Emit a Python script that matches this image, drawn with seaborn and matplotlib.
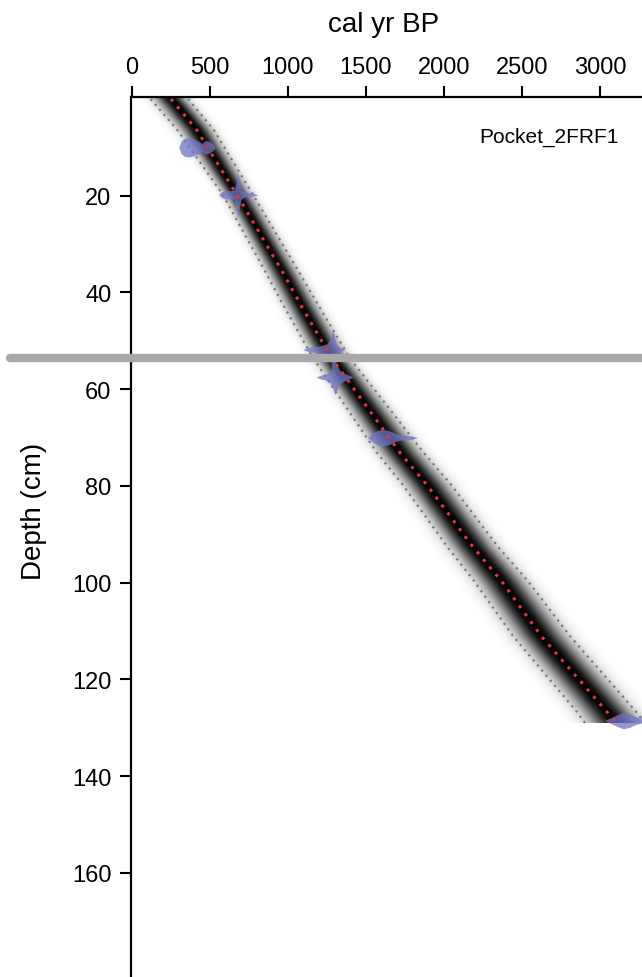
import numpy as np
import matplotlib
matplotlib.use("Agg")
import matplotlib.pyplot as plt
import seaborn as sns

# age-depth model (depth in cm, ages in cal yr BP)
model_depth = [0, 6.4, 19.8, 36, 42.9, 53.5, 73.1, 79.7, 92.5, 99.7, 111.1, 126.6, 129]
model_median = [250, 415, 673, 970, 1088, 1279, 1718, 1889, 2184, 2370, 2626, 3043, 3105]
model_lo = [120, 290, 583, 860, 975, 1160, 1570, 1735, 2020, 2195, 2445, 2850, 2905]
model_hi = [360, 525, 776, 1075, 1200, 1395, 1870, 2045, 2345, 2540, 2810, 3230, 3290]

# calibrated dates: depth, age grid and half height of the mirrored distribution (cm)
date_depths = [10, 19.8, 51.8, 57.5, 70, 128.5]
date_ages = [
    [300, 315, 340, 370, 400, 430, 447, 470, 500, 520, 535],
    [555, 575, 600, 630, 655, 668, 678, 688, 700, 720, 750, 780, 805],
    [1095, 1130, 1170, 1210, 1250, 1270, 1285, 1295, 1310, 1330, 1365],
    [1180, 1210, 1240, 1270, 1290, 1300, 1312, 1330, 1360, 1390, 1420],
    [1510, 1540, 1570, 1600, 1630, 1660, 1690, 1720, 1760, 1800, 1830],
    [3030, 3070, 3110, 3150, 3190, 3230, 3270, 3310],
]
date_heights = [
    [0, 1.3, 1.9, 2.0, 1.7, 1.2, 0.8, 1.4, 1.2, 0.6, 0],
    [0, 0.6, 0.9, 0.8, 1.0, 2.5, 4.7, 2.8, 1.0, 0.5, 0.4, 0.3, 0],
    [0, 0.4, 0.6, 0.8, 1.2, 2.0, 4.0, 3.2, 1.0, 0.5, 0],
    [0, 0.4, 0.6, 1.2, 2.5, 3.6, 2.8, 1.5, 0.8, 0.4, 0],
    [0, 0.8, 1.4, 1.7, 1.6, 1.3, 0.8, 0.5, 0.5, 0.3, 0],
    [0, 0.6, 1.2, 1.7, 1.4, 0.8, 0.5, 0.3],
]

hiatus_depth = 53.5
core_name = "Pocket_2FRF1"
x_ticks = [0, 500, 1000, 1500, 2000, 2500, 3000]
y_ticks = [20, 40, 60, 80, 100, 120, 140, 160]

sns.set_theme(style="white")
plt.rcParams['font.family'] = ['Liberation Sans', 'DejaVu Sans']
plt.rcParams['text.color'] = 'black'
plt.rcParams['axes.labelcolor'] = 'black'

fig = plt.figure(figsize=(6.42, 9.78), dpi=100)
ax = fig.add_axes([131 / 642, 0, 511 / 642, 880 / 978])
xlim = (-6, 3270)
ylim = (181.5, -0.4)

# grey-scale density of the model, darkest at the median
ag = np.linspace(xlim[0], xlim[1], 900)
dg = np.linspace(model_depth[0], model_depth[-1], 500)
med = np.interp(dg, model_depth, model_median)[:, None]
s_lo = (med - np.interp(dg, model_depth, model_lo)[:, None]) / 2
s_hi = (np.interp(dg, model_depth, model_hi)[:, None] - med) / 2
A = ag[None, :]
S = np.where(A < med, s_lo, s_hi)
z = np.exp(-0.5 * ((A - med) / S) ** 2) ** 0.9
rgba = np.zeros(z.shape + (4,))
rgba[..., 3] = z
ax.imshow(rgba, extent=(ag[0], ag[-1], dg[-1], dg[0]), origin='upper',
          aspect='auto', interpolation='bilinear', zorder=1)

# 95% range
for bound in (model_lo, model_hi):
    sns.lineplot(x=bound, y=model_depth, sort=False, estimator=None, ax=ax,
                 color='#7a7a7a', linewidth=1.6, linestyle=(0, (1, 2)), zorder=2)

# dates
for d, ages, h in zip(date_depths, date_ages, date_heights):
    ages = np.array(ages)
    h = np.array(h)
    ax.fill_between(ages, d - h, d + h, color='#7276c8', alpha=0.75, lw=0, zorder=3)

# median
sns.lineplot(x=model_median, y=model_depth, sort=False, estimator=None, ax=ax,
             color='#e8343a', linewidth=2.2, linestyle=(0, (1, 2.2)), zorder=4)

ax.axhline(hiatus_depth, xmin=(10 - 131) / 511, xmax=1, color='#a8a8a8', lw=6,
           clip_on=False, zorder=5)

ax.set_xlim(*xlim)
ax.set_ylim(*ylim)
ax.xaxis.tick_top()
ax.set_xticks(x_ticks)
ax.set_yticks(y_ticks)
ax.tick_params(axis='both', direction='out', length=8, width=1.5, labelsize=17,
               colors='black', pad=6)
ax.tick_params(axis='x', top=True, bottom=False)
ax.tick_params(axis='y', left=True)
for side in ('bottom', 'right'):
    ax.spines[side].set_visible(False)
for side in ('top', 'left'):
    ax.spines[side].set_linewidth(1.6)
    ax.spines[side].set_color('black')
ax.set_xlabel('')
ax.set_ylabel('Depth (cm)', fontsize=20)
ax.yaxis.set_label_coords(-0.165, 0.53)

fig.text(384 / 642, 1 - 25 / 978, 'cal yr BP', fontsize=20, ha='center', va='center')
ax.text(0.955, 0.955, core_name, transform=ax.transAxes, fontsize=15,
        ha='right', va='center', zorder=6)

fig.savefig('out.png', dpi=100)
